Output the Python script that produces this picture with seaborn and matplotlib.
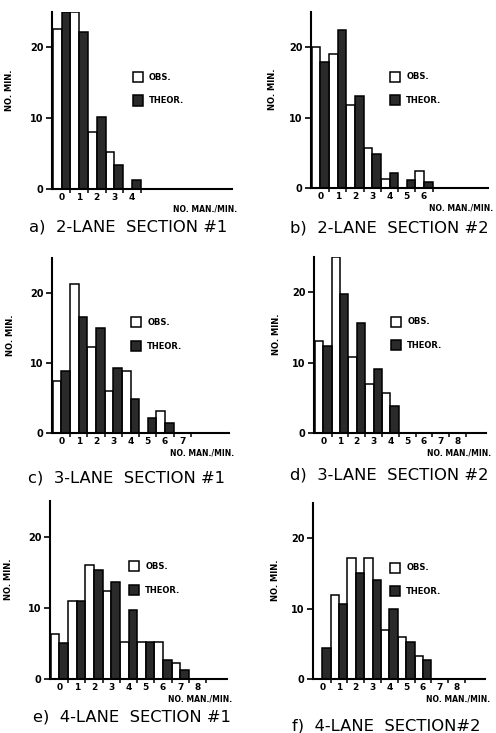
import pandas as pd
import seaborn as sns
import matplotlib.pyplot as plt

sns.set_style('ticks')
plt.rcParams['font.family'] = ['DejaVu Sans']
plt.rcParams['text.color'] = 'black'
plt.rcParams['xtick.color'] = 'black'
plt.rcParams['ytick.color'] = 'black'
plt.rcParams['axes.labelcolor'] = 'black'
plt.rcParams['axes.edgecolor'] = 'black'

# no. of maneuvers per minute (x categories)
man_a = ['0', '1', '2', '3', '4']
man_b = ['0', '1', '2', '3', '4', '5', '6']
man_c = ['0', '1', '2', '3', '4', '5', '6', '7']
man_d = ['0', '1', '2', '3', '4', '5', '6', '7', '8']
man_e = ['0', '1', '2', '3', '4', '5', '6', '7', '8']
man_f = ['0', '1', '2', '3', '4', '5', '6', '7', '8']

# observed / theoretical no. of minutes
obs_a = [22.6, 25, 8.1, 5.2, 0]
theor_a = [25, 22.2, 10.2, 3.4, 1.3]
obs_b = [20, 19.1, 11.8, 5.7, 1.3, 0, 2.4]
theor_b = [17.9, 22.5, 13.0, 4.8, 2.2, 1.2, 0.9]
obs_c = [7.5, 21.3, 12.3, 6.0, 8.9, 0, 3.1, 0]
theor_c = [8.8, 16.6, 15.0, 9.3, 4.9, 2.2, 1.5, 0]
obs_d = [13.0, 25, 10.8, 7.0, 5.7, 0, 0, 0, 0]
theor_d = [12.4, 19.8, 15.6, 9.1, 3.9, 0, 0, 0, 0]
obs_e = [6.3, 10.9, 16.0, 12.4, 5.2, 5.2, 5.2, 2.2, 0]
theor_e = [5.1, 10.9, 15.3, 13.6, 9.7, 5.2, 2.7, 1.3, 0]
obs_f = [0, 11.9, 17.2, 17.2, 6.9, 6.0, 3.2, 0, 0]
theor_f = [4.4, 10.6, 15.1, 14.1, 10.0, 5.2, 2.7, 0, 0]

captions = ['a)  2-LANE  SECTION #1', 'b)  2-LANE  SECTION #2',
            'c)  3-LANE  SECTION #1', 'd)  3-LANE  SECTION #2',
            'e)  4-LANE  SECTION #1', 'f)  4-LANE  SECTION#2']

panels = [(man_a, obs_a, theor_a), (man_b, obs_b, theor_b),
          (man_c, obs_c, theor_c), (man_d, obs_d, theor_d),
          (man_e, obs_e, theor_e), (man_f, obs_f, theor_f)]

# axes boxes in pixels: left, right, top, bottom
boxes = [(52, 232, 12, 189), (311, 488, 12, 188),
         (52, 229, 258, 433), (314, 486, 257, 433),
         (50, 227, 501, 679), (313, 485, 503, 679)]
cap_pos = [(128, 227), (389, 228), (126, 478), (389, 475), (132, 717), (386, 726)]

W, H = 496, 733
fig = plt.figure(figsize=(W / 100, H / 100), dpi=100)

for i, (man, obs, theor) in enumerate(panels):
    l, r, t, b = boxes[i]
    ax = fig.add_axes([l / W, 1 - b / H, (r - l) / W, (b - t) / H])
    df = pd.DataFrame({
        'man': man + man,
        'mins': obs + theor,
        'kind': ['OBS.'] * len(man) + ['THEOR.'] * len(man),
    })
    sns.barplot(data=df, x='man', y='mins', hue='kind', order=man,
                hue_order=['OBS.', 'THEOR.'],
                palette={'OBS.': 'white', 'THEOR.': '#2a2a2a'},
                width=1.0, edgecolor='black', linewidth=1.1, ax=ax)
    ax.set_xlim(-0.55, 9.7)
    ax.set_ylim(0, 25)
    ax.set_yticks([0, 10, 20])
    ax.set_xticks(range(len(man)))
    ax.set_xticklabels(man, fontsize=6.5, fontweight='bold')
    ax.set_xticks([k + 0.5 for k in range(len(man))], minor=True)
    ax.tick_params(axis='x', which='major', length=0, pad=3)
    ax.tick_params(axis='x', which='minor', length=3, width=1.1, direction='out')
    ax.tick_params(axis='y', length=4, width=1.2, labelsize=7, pad=2)
    for lab in ax.get_yticklabels():
        lab.set_fontweight('bold')
    sns.despine(ax=ax)
    ax.spines['left'].set_linewidth(1.5)
    ax.spines['bottom'].set_linewidth(1.5)
    ax.set_xlabel('')
    ax.set_ylabel('NO. MIN.', fontsize=6, fontweight='bold')
    ax.yaxis.set_label_coords(-0.21 if i % 2 == 0 else -0.19, 0.56)
    ax.text(1.03, -0.115, 'NO. MAN./MIN.', transform=ax.transAxes,
            ha='right', va='center', fontsize=5.5, fontweight='bold')
    ax.legend(loc='upper left', bbox_to_anchor=(0.43, 0.68), frameon=False,
              handlelength=1.2, handleheight=1.5,
              labelspacing=1.6, handletextpad=0.7, borderaxespad=0,
              prop={'weight': 'bold', 'size': 6})
    cx, cy = cap_pos[i]
    fig.text(cx / W, 1 - cy / H, captions[i], ha='center', va='center',
             fontsize=11.8)

plt.savefig('out.png', dpi=100)
